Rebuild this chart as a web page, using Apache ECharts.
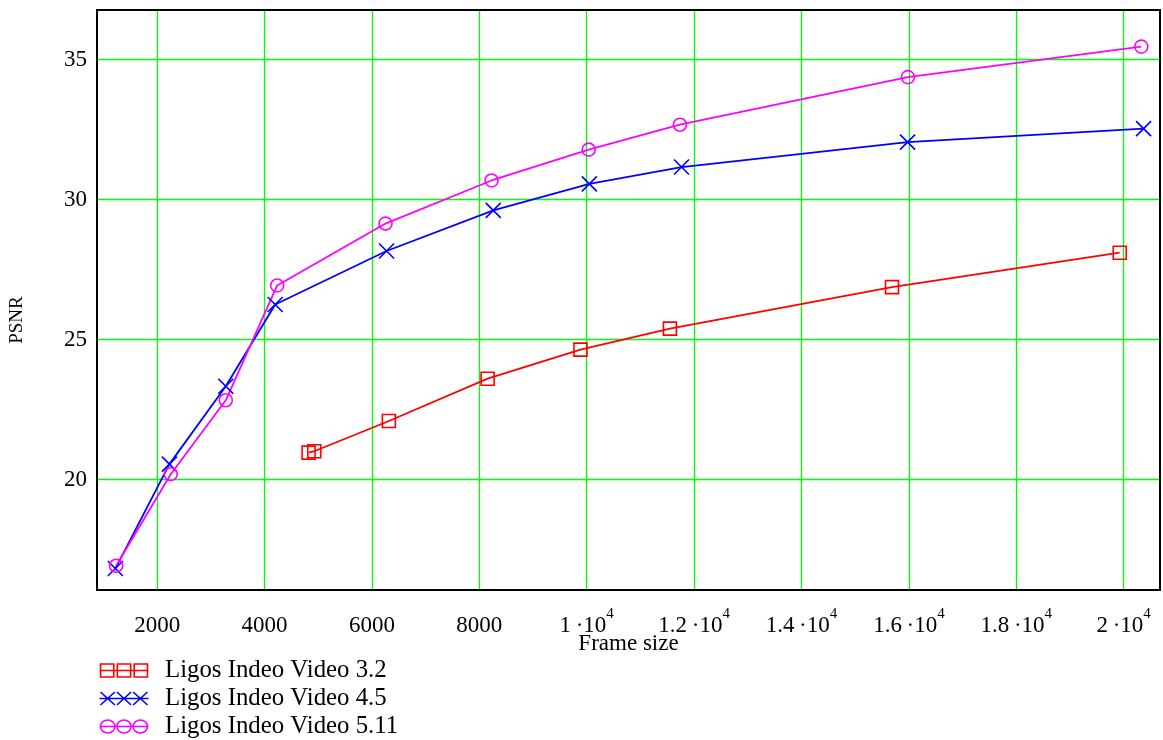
<!DOCTYPE html>
<html><head><meta charset="utf-8">
<script src="https://cdn.jsdelivr.net/npm/echarts@6/dist/echarts.min.js"></script>
<style>html,body{margin:0;padding:0;background:#fff}#c{width:1163px;height:740px}</style>
</head><body><div id="c"></div>
<script>
const seriesNames = ['Ligos Indeo Video 3.2', 'Ligos Indeo Video 4.5', 'Ligos Indeo Video 5.11'];

const v32Size = [4820, 4926, 6315, 8154, 9883, 11549, 15685, 19926];
const v32Psnr = [20.96, 21.01, 22.09, 23.60, 24.64, 25.39, 26.87, 28.10];

const v45Size = [1222, 2228, 3278, 4198, 6272, 8259, 10049, 11765, 15975, 20370];
const v45Psnr = [16.82, 20.55, 23.33, 26.25, 28.16, 29.61, 30.56, 31.16, 32.05, 32.53];

const v511Size = [1235, 2253, 3278, 4235, 6253, 8228, 10037, 11735, 15981, 20328];
const v511Psnr = [16.92, 20.19, 22.83, 26.93, 29.14, 30.68, 31.78, 32.67, 34.37, 35.46];

const xTickValues = [2000, 4000, 6000, 8000, 10000, 12000, 14000, 16000, 18000, 20000];
const xTickLabels = ['2000', '4000', '6000', '8000', '1\u2009·10^4', '1.2\u2009·10^4', '1.4\u2009·10^4', '1.6\u2009·10^4', '1.8\u2009·10^4', '2\u2009·10^4'];
const yTickValues = [20, 25, 30, 35];
const yTickLabels = ['20', '25', '30', '35'];

const xName = 'Frame size';
const yName = 'PSNR';

const FONT = 'Liberation Serif';
const RED = '#ff0000', BLUE = '#0000ff', MAG = '#ff00ff', GRIDC = '#00ff00';

function pairs(xs, ys) { return xs.map((x, i) => [x, ys[i]]); }

const iconRect = 'path://M0 7H48M1 0.5H14V13.5H1ZM17.5 0.5H30.5V13.5H17.5ZM34 0.5H47V13.5H34Z';
const iconX = 'path://M0 7H48M1 0L15 14M1 14L15 0M17 0L31 14M17 14L31 0M33 0L47 14M33 14L47 0';
const iconO = 'path://M0 7H48M1 7A7 7 0 1 1 15 7A7 7 0 1 1 1 7ZM17 7A7 7 0 1 1 31 7A7 7 0 1 1 17 7ZM33 7A7 7 0 1 1 47 7A7 7 0 1 1 33 7Z';
const xSymbol = 'path://M0 0L10 10M0 10L10 0';

const gridLines = xTickValues.map(v => ({xAxis: v})).concat(yTickValues.map(v => ({yAxis: v})));

const chart = echarts.init(document.getElementById('c'), null, {renderer: 'canvas'});
chart.setOption({
  animation: false,
  backgroundColor: '#fff',
  grid: {left: 97, right: -3, top: 10, bottom: 150, show: true, z: 3, borderColor: '#000', borderWidth: 2, backgroundColor: 'transparent'},
  xAxis: {
    type: 'value', min: 879.63, max: 20675.93, splitNumber: 10, z: 3,
    name: xName, nameLocation: 'middle', nameGap: 42, nameMoveOverlap: false,
    nameTextStyle: {fontFamily: FONT, fontSize: 23, color: '#000'},
    axisLine: {show: true, lineStyle: {color: '#000', width: 2}},
    axisTick: {show: false},
    splitLine: {show: false},
    axisLabel: {
      margin: 16.5,
      formatter: function (v) {
        const i = xTickValues.indexOf(Math.round(v));
        if (i < 0 || Math.abs(v - xTickValues[i]) > 1e-6) return '';
        const p = xTickLabels[i].split('^');
        return p.length > 1 ? '{b|' + p[0] + '}{s|' + p[1] + '}' : '{b|' + p[0] + '}';
      },
      rich: {
        b: {fontFamily: FONT, fontSize: 23, lineHeight: 38, color: '#000'},
        s: {fontFamily: FONT, fontSize: 15, lineHeight: 15, verticalAlign: 'top', color: '#000'}
      }
    }
  },
  yAxis: {
    type: 'value', min: 16.0536, max: 36.7679, splitNumber: 4, z: 3,
    name: yName, nameLocation: 'middle', nameGap: 70, nameRotate: 90, nameMoveOverlap: false,
    nameTextStyle: {fontFamily: FONT, fontSize: 19, color: '#000', padding: [0, 40, 0, 0]},
    axisLine: {show: true, lineStyle: {color: '#000', width: 2}},
    axisTick: {show: false},
    splitLine: {show: false},
    axisLabel: {
      margin: 10, fontFamily: FONT, fontSize: 23, color: '#000',
      formatter: function (v) {
        const i = yTickValues.indexOf(Math.round(v));
        if (i < 0 || Math.abs(v - yTickValues[i]) > 1e-6) return '';
        return yTickLabels[i];
      }
    }
  },
  legend: {
    orient: 'vertical', left: 97, top: 657, height: 90, padding: 0,
    itemWidth: 49, itemHeight: 13, itemGap: 1,
    symbolKeepAspect: false, selectedMode: false,
    textStyle: {fontFamily: FONT, fontSize: 24.8, color: '#000', lineHeight: 27, padding: [0, 0, 0, 11.5]},
    data: [
      {name: seriesNames[0], icon: iconRect, itemStyle: {color: 'none', borderColor: RED, borderWidth: 1.6}},
      {name: seriesNames[1], icon: iconX, itemStyle: {color: 'none', borderColor: BLUE, borderWidth: 1.6}},
      {name: seriesNames[2], icon: iconO, itemStyle: {color: 'none', borderColor: MAG, borderWidth: 1.6}}
    ]
  },
  series: [
    {name: seriesNames[0], type: 'line', data: pairs(v32Size, v32Psnr), symbol: 'rect', symbolSize: 13,
     showAllSymbol: true, color: RED, z: 2,
     lineStyle: {color: RED, width: 1.8}, itemStyle: {color: 'none', borderColor: RED, borderWidth: 1.6},
     markLine: {
       silent: true, symbol: 'none', z: 1, animation: false,
       label: {show: false}, emphasis: {disabled: true},
       lineStyle: {color: GRIDC, width: 1.3, type: 'solid', opacity: 1},
       data: gridLines
     }},
    {name: seriesNames[1], type: 'line', data: pairs(v45Size, v45Psnr), symbol: xSymbol, symbolSize: 15,
     showAllSymbol: true, color: BLUE, z: 2,
     lineStyle: {color: BLUE, width: 1.8}, itemStyle: {color: 'none', borderColor: BLUE, borderWidth: 1.6}},
    {name: seriesNames[2], type: 'line', data: pairs(v511Size, v511Psnr), symbol: 'circle', symbolSize: 13,
     showAllSymbol: true, color: MAG, z: 2,
     lineStyle: {color: MAG, width: 1.8}, itemStyle: {color: 'none', borderColor: MAG, borderWidth: 1.6}}
  ]
});
</script></body></html>
